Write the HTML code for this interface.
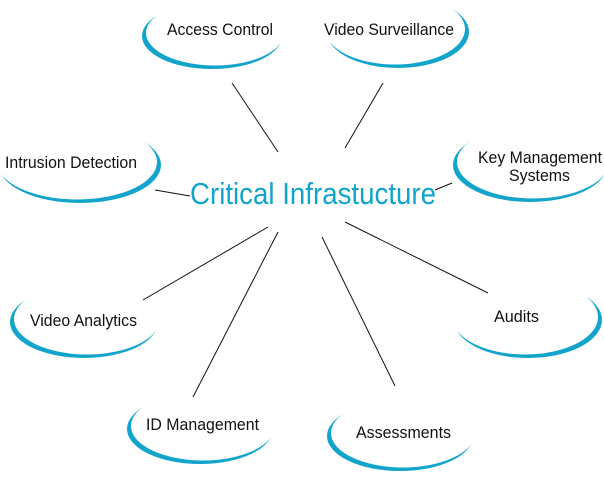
<!DOCTYPE html>
<html><head><style>html,body{margin:0;padding:0;background:#fff;}svg{display:block}</style></head>
<body>
<svg width="604" height="484" viewBox="0 0 604 484" xmlns="http://www.w3.org/2000/svg">
<g fill="#12a4cb">
<ellipse cx="212" cy="36" rx="70" ry="33"/><ellipse cx="215" cy="33" rx="69" ry="32.5" fill="#fff"/>
<ellipse cx="398" cy="32" rx="71" ry="36"/><ellipse cx="395" cy="29" rx="70" ry="35.5" fill="#fff"/>
<ellipse cx="80" cy="165" rx="81" ry="38"/><ellipse cx="77" cy="162" rx="80" ry="37.5" fill="#fff"/>
<ellipse cx="530" cy="165" rx="77" ry="37"/><ellipse cx="533" cy="162" rx="76" ry="36.5" fill="#fff"/>
<ellipse cx="84" cy="322" rx="74" ry="36"/><ellipse cx="87" cy="319" rx="73" ry="35.5" fill="#fff"/>
<ellipse cx="528" cy="320" rx="74" ry="38"/><ellipse cx="525" cy="317" rx="73" ry="37.5" fill="#fff"/>
<ellipse cx="200" cy="429" rx="73" ry="35"/><ellipse cx="203" cy="426" rx="72" ry="34.5" fill="#fff"/>
<ellipse cx="400" cy="436" rx="73" ry="35"/><ellipse cx="403" cy="433" rx="72" ry="34.5" fill="#fff"/>
</g>
<g stroke="#111" stroke-width="1">
<line x1="232" y1="83" x2="278" y2="152"/>
<line x1="383" y1="83" x2="345" y2="148"/>
<line x1="155" y1="190" x2="190" y2="196"/>
<line x1="435" y1="190" x2="452" y2="183"/>
<line x1="268" y1="227" x2="143" y2="300"/>
<line x1="278" y1="232" x2="193" y2="397"/>
<line x1="322" y1="237" x2="395" y2="386"/>
<line x1="345" y1="222" x2="488" y2="293"/>
</g>
<text x="190" y="204" font-family="Liberation Sans, sans-serif" font-size="31" fill="#12a4cb" textLength="246" lengthAdjust="spacingAndGlyphs">Critical Infrastucture</text>
<g font-family="Liberation Sans, sans-serif" font-size="17" fill="#111">
<text x="167" y="35" textLength="106" lengthAdjust="spacingAndGlyphs">Access Control</text>
<text x="324" y="35" textLength="130" lengthAdjust="spacingAndGlyphs">Video Surveillance</text>
<text x="5" y="168" textLength="132" lengthAdjust="spacingAndGlyphs">Intrusion Detection</text>
<text x="478" y="163" textLength="124" lengthAdjust="spacingAndGlyphs">Key Management</text>
<text x="509" y="181" textLength="61" lengthAdjust="spacingAndGlyphs">Systems</text>
<text x="30" y="326" textLength="107" lengthAdjust="spacingAndGlyphs">Video Analytics</text>
<text x="494" y="322" textLength="45" lengthAdjust="spacingAndGlyphs">Audits</text>
<text x="146" y="430" textLength="113" lengthAdjust="spacingAndGlyphs">ID Management</text>
<text x="356" y="438" textLength="95" lengthAdjust="spacingAndGlyphs">Assessments</text>
</g>
</svg>
</body></html>
